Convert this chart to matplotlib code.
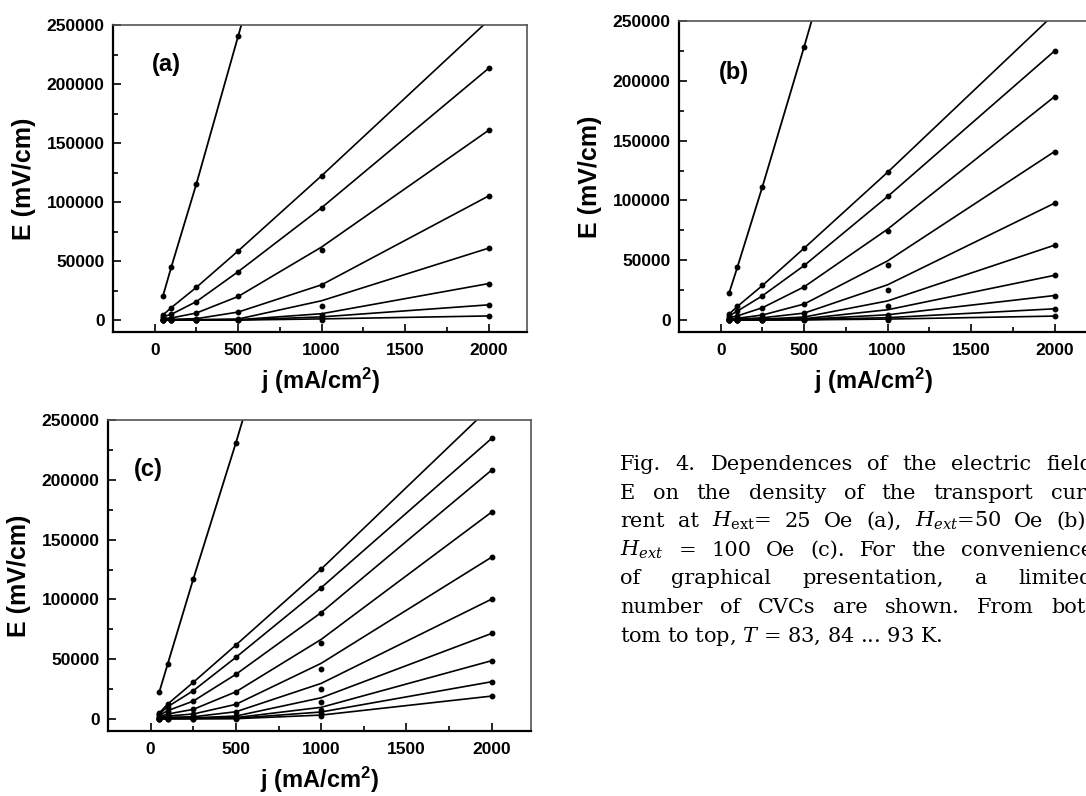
import matplotlib
matplotlib.use('Agg')
import matplotlib.pyplot as plt
from matplotlib.ticker import MultipleLocator

plt.rcParams['font.family'] = 'Liberation Sans'
plt.rcParams['font.weight'] = 'bold'
plt.rcParams['axes.labelweight'] = 'bold'
plt.rcParams['mathtext.fontset'] = 'custom'
plt.rcParams['mathtext.rm'] = 'DejaVu Serif:weight=normal'
plt.rcParams['mathtext.it'] = 'DejaVu Serif:style=italic:weight=normal'
plt.rcParams['mathtext.sf'] = 'Liberation Sans:weight=bold'

# current density points (mA/cm^2)
j = [50, 100, 250, 500, 1000, 2000]
j_steep = [50, 100, 250, 500, 1000]

# (a) H_ext = 25 Oe
steep_a = [20900, 45400, 115700, 240700, 490000]
E_a = [
    [4500, 10700, 27900, 58700, 122400, 254000],
    [3000, 5000, 15800, 41100, 95300, 213300],
    [1500, 1900, 6100, 20100, 59500, 160800],
    [500, 700, 1300, 6900, 29900, 105200],
    [200, 300, 500, 1000, 11800, 61000],
    [100, 150, 250, 400, 4100, 31000],
    [50, 80, 120, 200, 1900, 13000],
    [20, 40, 60, 100, 500, 3600],
]
fit1000_a = [122400, 95300, 62000, 30000, 16500, 5500, 2800, 1100]

# (b) H_ext = 50 Oe
steep_b = [22500, 44300, 111600, 228600, 470000]
E_b = [
    [5000, 11400, 28900, 60100, 123600, 256000],
    [3500, 7500, 20300, 45600, 103300, 225000],
    [2000, 3500, 10300, 27800, 74500, 186800],
    [1000, 1500, 4200, 13400, 46300, 140900],
    [500, 800, 1900, 5800, 24700, 97700],
    [300, 400, 800, 2500, 11800, 62600],
    [150, 250, 400, 1100, 4400, 37400],
    [100, 150, 250, 600, 2500, 20500],
    [50, 80, 120, 300, 1200, 9400],
    [20, 40, 60, 150, 400, 3300],
]
fit1000_b = [123600, 103300, 76000, 49500, 29500, 16000, 8600, 4400, 2000, 800]

# (c) H_ext = 100 Oe
steep_c = [22300, 46000, 117000, 231000, 470000]
E_c = [
    [5000, 12500, 30700, 61900, 125400, 262000],
    [4000, 10300, 23700, 51600, 109800, 234700],
    [3000, 7000, 15000, 37400, 88300, 208200],
    [2000, 4200, 8100, 22800, 63800, 173100],
    [1200, 2500, 4200, 12300, 41800, 135400],
    [700, 1500, 1900, 6100, 25300, 100300],
    [400, 800, 1000, 2500, 14200, 71600],
    [250, 500, 600, 1200, 7500, 48800],
    [150, 300, 400, 600, 4700, 31200],
    [80, 150, 200, 300, 2500, 19200],
]
fit1000_c = [125400, 109800, 89000, 66600, 46600, 29800, 17800, 9800, 5900, 3300]

W, H = 1086, 796
fig = plt.figure(figsize=(W / 100, H / 100), dpi=100)


def px_axes(l, t, r, b):
    return fig.add_axes([l / W, 1 - b / H, (r - l) / W, (b - t) / H])


def panel(ax, steep, E, fit1000, tag, tagpos, xlab_x=0.5):
    ax.plot(j_steep, steep, color='black', lw=1.3, marker='o', ms=3.2)
    for row, f in zip(E, fit1000):
        line = list(row)
        line[4] = f
        ax.plot(j, line, color='black', lw=1.2)
        ax.plot(j, row, 'o', color='black', ms=3.2)
    ax.set_xlim(-250, 2230)
    ax.set_ylim(-10000, 250000)
    ax.xaxis.set_major_locator(MultipleLocator(500))
    ax.xaxis.set_minor_locator(MultipleLocator(250))
    ax.yaxis.set_major_locator(MultipleLocator(50000))
    ax.yaxis.set_minor_locator(MultipleLocator(25000))
    ax.tick_params(which='both', direction='in', width=1.2, labelsize=12.5)
    ax.tick_params(which='major', length=6)
    ax.tick_params(which='minor', length=3.5)
    ax.tick_params(axis='x', pad=8)
    ax.tick_params(axis='y', pad=6)
    for s in ['left', 'bottom']:
        ax.spines[s].set_linewidth(1.6)
    for s in ['top', 'right']:
        ax.spines[s].set_linewidth(1.2)
        ax.spines[s].set_color('#555555')
    ax.set_xlabel(r'j (mA/cm$^{\mathsf{2}}$)', fontsize=17, labelpad=5)
    ax.xaxis.set_label_coords(xlab_x, -0.11)
    ax.set_ylabel('E (mV/cm)', fontsize=18, labelpad=8)
    ax.text(tagpos[0], tagpos[1], tag, transform=ax.transAxes, fontsize=17,
            ha='left', va='center')


ax_a = px_axes(113, 25, 527, 332)
panel(ax_a, steep_a, E_a, fit1000_a, '(a)', (0.094, 0.87))
ax_b = px_axes(679, 21, 1093, 332)
panel(ax_b, steep_b, E_b, fit1000_b, '(b)', (0.097, 0.833), xlab_x=0.469)
ax_c = px_axes(108, 420, 531, 731)
panel(ax_c, steep_c, E_c, fit1000_c, '(c)', (0.061, 0.84))

# caption, justified line by line
caption = [
    ['Fig.', '4.', 'Dependences', 'of', 'the', 'electric', 'field'],
    ['E', 'on', 'the', 'density', 'of', 'the', 'transport', 'cur-'],
    ['rent', 'at', r'$H_{\mathrm{ext}}$=', '25', 'Oe', '(a),', r'$H_{ext}$=50', 'Oe', '(b),'],
    [r'$H_{ext}$', '=', '100', 'Oe', '(c).', 'For', 'the', 'convenience'],
    ['of', 'graphical', 'presentation,', 'a', 'limited'],
    ['number', 'of', 'CVCs', 'are', 'shown.', 'From', 'bot-'],
]
last_line = r'tom to top, $T$ = 83, 84 ... 93 K.'
x0, x1 = 620, 1093
base0, step = 470, 28.6
cap_font = dict(family='DejaVu Serif', fontweight='normal', fontsize=15)

renderer = fig.canvas.get_renderer()
for k, words in enumerate(caption):
    yb = 1 - (base0 + k * step) / H
    items = [fig.text(0, yb, w, va='baseline', ha='left', **cap_font) for w in words]
    widths = [t.get_window_extent(renderer).width for t in items]
    gap = (x1 - x0 - sum(widths)) / (len(items) - 1)
    x = x0
    for t, w in zip(items, widths):
        t.set_x(x / W)
        x += w + gap
fig.text(x0 / W, 1 - (base0 + 6 * step) / H, last_line, va='baseline', ha='left', **cap_font)

fig.savefig('out.png', dpi=100)
